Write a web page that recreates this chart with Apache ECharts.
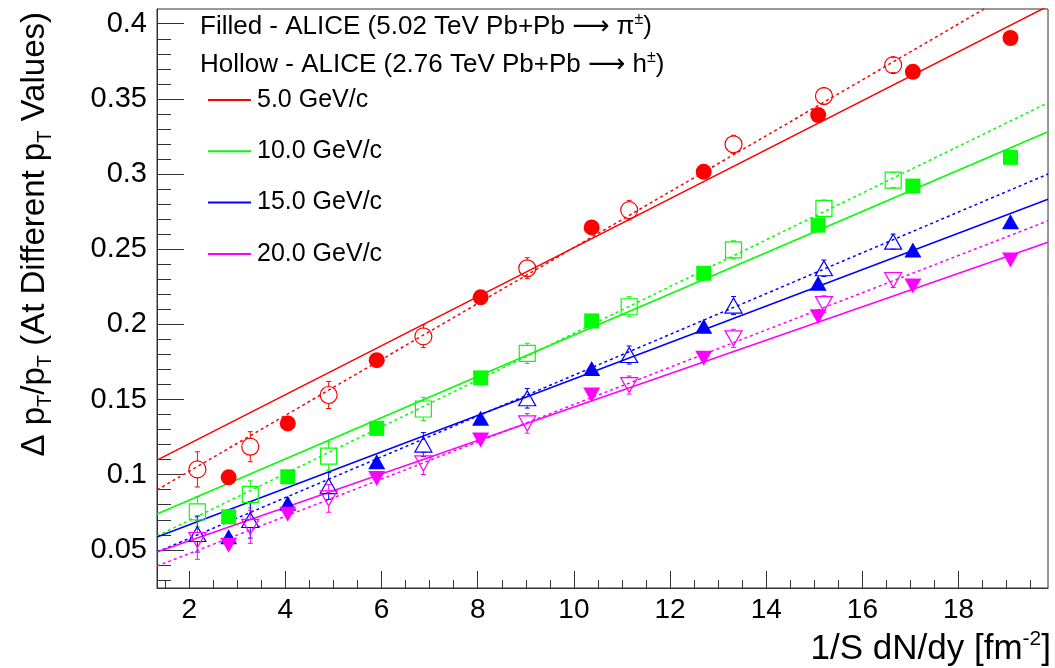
<!DOCTYPE html>
<html>
<head>
<meta charset="utf-8">
<script src="https://cdn.jsdelivr.net/npm/echarts@6/dist/echarts.min.js"></script>
<style>
html, body { margin: 0; padding: 0; background: #fff; }
#chart { width: 1055px; height: 668px; }
</style>
</head>
<body>
<div id="chart"></div>
<script>
// Axis ranges and tick labels
const xMin = 1.33, xMax = 19.86;
const yMin = 0.0246, yMax = 0.4098;
const xTickLabels = [2, 4, 6, 8, 10, 12, 14, 16, 18];
const yTickLabels = [0.05, 0.1, 0.15, 0.2, 0.25, 0.3, 0.35, 0.4];

// pT bins
const ptLabels = ['5.0 GeV/c', '10.0 GeV/c', '15.0 GeV/c', '20.0 GeV/c'];
const ptColors = ['#ff0000', '#00ff00', '#0000ff', '#ff00ff'];

// ALICE 5.02 TeV Pb+Pb -> pi± (filled markers)
const filledX  = [2.82, 4.05, 5.90, 8.06, 10.37, 12.70, 15.08, 17.05, 19.08];
const filled5  = [0.0982, 0.1341, 0.1762, 0.2180, 0.2645, 0.3015, 0.3393, 0.3680, 0.3905];
const filled10 = [0.0720, 0.0986, 0.1308, 0.1644, 0.2023, 0.2340, 0.2660, 0.2920, 0.3111];
const filled15 = [0.0587, 0.0809, 0.1086, 0.1375, 0.1707, 0.1987, 0.2273, 0.2494, 0.2683];
const filled20 = [0.0531, 0.0736, 0.0975, 0.1230, 0.1530, 0.1774, 0.2050, 0.2255, 0.2428];

// ALICE 2.76 TeV Pb+Pb -> h± (hollow markers, with errors)
const hollowX  = [2.17, 3.27, 4.90, 6.87, 9.03, 11.15, 13.32, 15.20, 16.64];
const hollow5  = [0.1035, 0.1186, 0.1530, 0.1920, 0.2373, 0.2760, 0.3198, 0.3519, 0.3725];
const hollow10 = [0.0753, 0.0869, 0.1124, 0.1437, 0.1807, 0.2117, 0.2496, 0.2772, 0.2960];
const hollow15 = [0.0605, 0.0698, 0.0924, 0.1200, 0.1508, 0.1796, 0.2125, 0.2373, 0.2550];
const hollow20 = [0.0565, 0.0653, 0.0842, 0.1075, 0.1341, 0.1596, 0.1907, 0.2135, 0.2295];
const hollow5Err  = [0.0117, 0.0100, 0.0090, 0.0075, 0.0070, 0.0065, 0.0060, 0.0055, 0.0050];
const hollow10Err = [0.0100, 0.0090, 0.0094, 0.0078, 0.0067, 0.0067, 0.0060, 0.0055, 0.0050];
const hollow15Err = [0.0120, 0.0120, 0.0090, 0.0080, 0.0065, 0.0060, 0.0060, 0.0055, 0.0050];
const hollow20Err = [0.0128, 0.0110, 0.0092, 0.0074, 0.0065, 0.0060, 0.0060, 0.0055, 0.0050];

// Linear fits: values at the left and right edges of the frame
const fitX = [xMin, xMax];
const fitFilled5  = [0.1097, 0.4117];
const fitFilled10 = [0.0738, 0.3281];
const fitFilled15 = [0.0585, 0.2832];
const fitFilled20 = [0.0485, 0.2546];
const fitHollow5  = [0.0898, 0.4345];
const fitHollow10 = [0.0592, 0.3474];
const fitHollow15 = [0.0485, 0.3000];
const fitHollow20 = [0.0392, 0.2689];

const FONT = '"Liberation Sans", Arial, Helvetica, sans-serif';
const ARROW_FONT = '"DejaVu Sans", "Liberation Sans", sans-serif';
const AXIS_COLOR = '#333';

const filledSets = [filled5, filled10, filled15, filled20];
const hollowSets = [hollow5, hollow10, hollow15, hollow20];
const hollowErrs = [hollow5Err, hollow10Err, hollow15Err, hollow20Err];
const fitFilled = [fitFilled5, fitFilled10, fitFilled15, fitFilled20];
const fitHollow = [fitHollow5, fitHollow10, fitHollow15, fitHollow20];

// Marker shapes per pT bin: circle, square, triangle up, triangle down
const markerSymbol = ['circle', 'rect', 'triangle', 'triangle'];
const markerRotate = [0, 0, 0, 180];
const filledSize = [16, 15, [17, 15], [17, 15]];
const hollowSize = [17, 16, [17, 15], [17, 15]];

// Minor tick positions
const xMinor = [];
for (let v = 1.5; v < xMax; v += 0.5) xMinor.push(+v.toFixed(2));
const yMinor = [];
for (let v = 0.03; v < yMax; v += 0.01) yMinor.push(+v.toFixed(2));

const zip = (xs, ys) => xs.map((x, i) => [x, ys[i]]);

function errorBarRenderer(color, halfMarker) {
  return function (params, api) {
    const x = api.value(0), y = api.value(1), e = api.value(2);
    const top = api.coord([x, y + e]);
    const mid = api.coord([x, y]);
    const bot = api.coord([x, y - e]);
    const style = { stroke: color, lineWidth: 1 };
    const cap = 2.5;
    const children = [];
    if (mid[1] - top[1] > halfMarker) {
      children.push({ type: 'line', shape: { x1: mid[0], y1: top[1], x2: mid[0], y2: mid[1] - halfMarker }, style });
      children.push({ type: 'line', shape: { x1: mid[0], y1: bot[1], x2: mid[0], y2: mid[1] + halfMarker }, style });
    }
    children.push({ type: 'line', shape: { x1: mid[0] - cap, y1: top[1], x2: mid[0] + cap, y2: top[1] }, style });
    children.push({ type: 'line', shape: { x1: mid[0] - cap, y1: bot[1], x2: mid[0] + cap, y2: bot[1] }, style });
    return { type: 'group', children };
  };
}

const series = [];
ptLabels.forEach((label, i) => {
  const c = ptColors[i];
  // fit to the filled points (solid)
  series.push({
    name: label, type: 'line', data: zip(fitX, fitFilled[i]),
    showSymbol: false, symbol: 'none', silent: true, clip: true, z: 2,
    itemStyle: { color: c }, lineStyle: { color: c, width: 1.5, type: 'solid' }
  });
  // fit to the hollow points (dotted)
  series.push({
    name: label + ' h', type: 'line', data: zip(fitX, fitHollow[i]),
    showSymbol: false, symbol: 'none', silent: true, clip: true, z: 2,
    itemStyle: { color: c }, lineStyle: { color: c, width: 1.5, type: [3, 3] }
  });
});
ptLabels.forEach((label, i) => {
  const c = ptColors[i];
  series.push({
    name: label + ' h err', type: 'custom', silent: true, clip: true, z: 3,
    renderItem: errorBarRenderer(c, 8),
    data: hollowX.map((x, k) => [x, hollowSets[i][k], hollowErrs[i][k]])
  });
  series.push({
    name: label + ' h pts', type: 'scatter', silent: true, z: 4,
    data: zip(hollowX, hollowSets[i]),
    symbol: markerSymbol[i], symbolRotate: markerRotate[i], symbolSize: hollowSize[i],
    itemStyle: { color: 'rgba(0,0,0,0)', borderColor: c, borderWidth: 1.2, opacity: 1 }
  });
  series.push({
    name: label + ' pts', type: 'scatter', silent: true, z: 5,
    data: zip(filledX, filledSets[i]),
    symbol: markerSymbol[i], symbolRotate: markerRotate[i], symbolSize: filledSize[i],
    itemStyle: { color: c, opacity: 1 }
  });
});

const headerRich = {
  sup: { fontSize: 16, fontFamily: FONT, verticalAlign: 'top', lineHeight: 14, fill: '#000' },
  arr: { fontSize: 26, fontFamily: ARROW_FONT, fill: '#000' }
};

const option = {
  animation: false,
  backgroundColor: '#fff',
  grid: {
    left: 157, right: 7, top: 9, bottom: 80,
    show: true, borderColor: AXIS_COLOR, borderWidth: 1,
    containLabel: false, outerBoundsMode: 'none'
  },
  legend: {
    data: ptLabels.map(n => ({ name: n, icon: 'rect' })),
    orient: 'vertical', left: 203, top: 80,
    itemWidth: 43, itemHeight: 2, itemGap: 21.3,
    selectedMode: false,
    itemStyle: { borderWidth: 0 },
    textStyle: { fontFamily: FONT, fontSize: 25, color: '#000', lineHeight: 30, padding: [0, 0, 0, 1] }
  },
  xAxis: [
    {
      type: 'value', min: xMin, max: xMax, position: 'bottom',
      axisLine: { show: true, onZero: false, lineStyle: { color: AXIS_COLOR, width: 1 } },
      axisTick: { show: true, inside: true, length: 17, customValues: xTickLabels, lineStyle: { color: AXIS_COLOR } },
      axisLabel: { show: true, customValues: xTickLabels, margin: 8, fontFamily: FONT, fontSize: 28, color: '#000' },
      splitLine: { show: false }
    },
    {
      type: 'value', min: xMin, max: xMax, position: 'bottom',
      axisLine: { show: false },
      axisTick: { show: true, inside: true, length: 8, customValues: xMinor, lineStyle: { color: AXIS_COLOR } },
      axisLabel: { show: false },
      splitLine: { show: false }
    }
  ],
  yAxis: [
    {
      type: 'value', min: yMin, max: yMax, position: 'left',
      axisLine: { show: true, onZero: false, lineStyle: { color: AXIS_COLOR, width: 1 } },
      axisTick: { show: true, inside: true, length: 27, customValues: yTickLabels, lineStyle: { color: AXIS_COLOR } },
      axisLabel: {
        show: true, customValues: yTickLabels, margin: 10, fontFamily: FONT, fontSize: 29, color: '#000',
        formatter: v => String(+(+v).toFixed(2))
      },
      splitLine: { show: false }
    },
    {
      type: 'value', min: yMin, max: yMax, position: 'left',
      axisLine: { show: false },
      axisTick: { show: true, inside: true, length: 14, customValues: yMinor, lineStyle: { color: AXIS_COLOR } },
      axisLabel: { show: false },
      splitLine: { show: false }
    }
  ],
  graphic: [
    {
      type: 'text', x: 200, y: 27, silent: true,
      style: {
        text: 'Filled - ALICE (5.02 TeV Pb+Pb {arr|\u27f6} \u03c0{sup|\u00b1})',
        fontFamily: FONT, fontSize: 26, lineHeight: 30, fill: '#000',
        align: 'left', verticalAlign: 'middle', textAlign: 'left', textVerticalAlign: 'middle',
        rich: headerRich
      }
    },
    {
      type: 'text', x: 200, y: 65, silent: true,
      style: {
        text: 'Hollow - ALICE (2.76 TeV Pb+Pb {arr|\u27f6} h{sup|\u00b1})',
        fontFamily: FONT, fontSize: 26, lineHeight: 30, fill: '#000',
        align: 'left', verticalAlign: 'middle', textAlign: 'left', textVerticalAlign: 'middle',
        rich: headerRich
      }
    },
    {
      type: 'text', x: 1051, y: 649, silent: true,
      style: {
        text: '1/S dN/dy [fm{sup|-2}]',
        fontFamily: FONT, fontSize: 35, lineHeight: 40, fill: '#000',
        align: 'right', verticalAlign: 'middle', textAlign: 'right', textVerticalAlign: 'middle',
        rich: { sup: { fontSize: 21, fontFamily: FONT, verticalAlign: 'top', lineHeight: 22, fill: '#000' } }
      }
    },
    {
      type: 'text', x: 35, y: 12, rotation: Math.PI / 2, silent: true,
      style: {
        text: '\u0394 p{sub|T}/p{sub|T} (At Different p{sub|T} Values)',
        fontFamily: FONT, fontSize: 33, lineHeight: 40, fill: '#000',
        align: 'right', verticalAlign: 'middle', textAlign: 'right', textVerticalAlign: 'middle',
        rich: { sub: { fontSize: 20, fontFamily: FONT, verticalAlign: 'bottom', lineHeight: 16, fill: '#000' } }
      }
    }
  ],
  series: series
};

const chart = echarts.init(document.getElementById('chart'), null, { renderer: 'canvas' });
chart.setOption(option);
</script>
</body>
</html>
